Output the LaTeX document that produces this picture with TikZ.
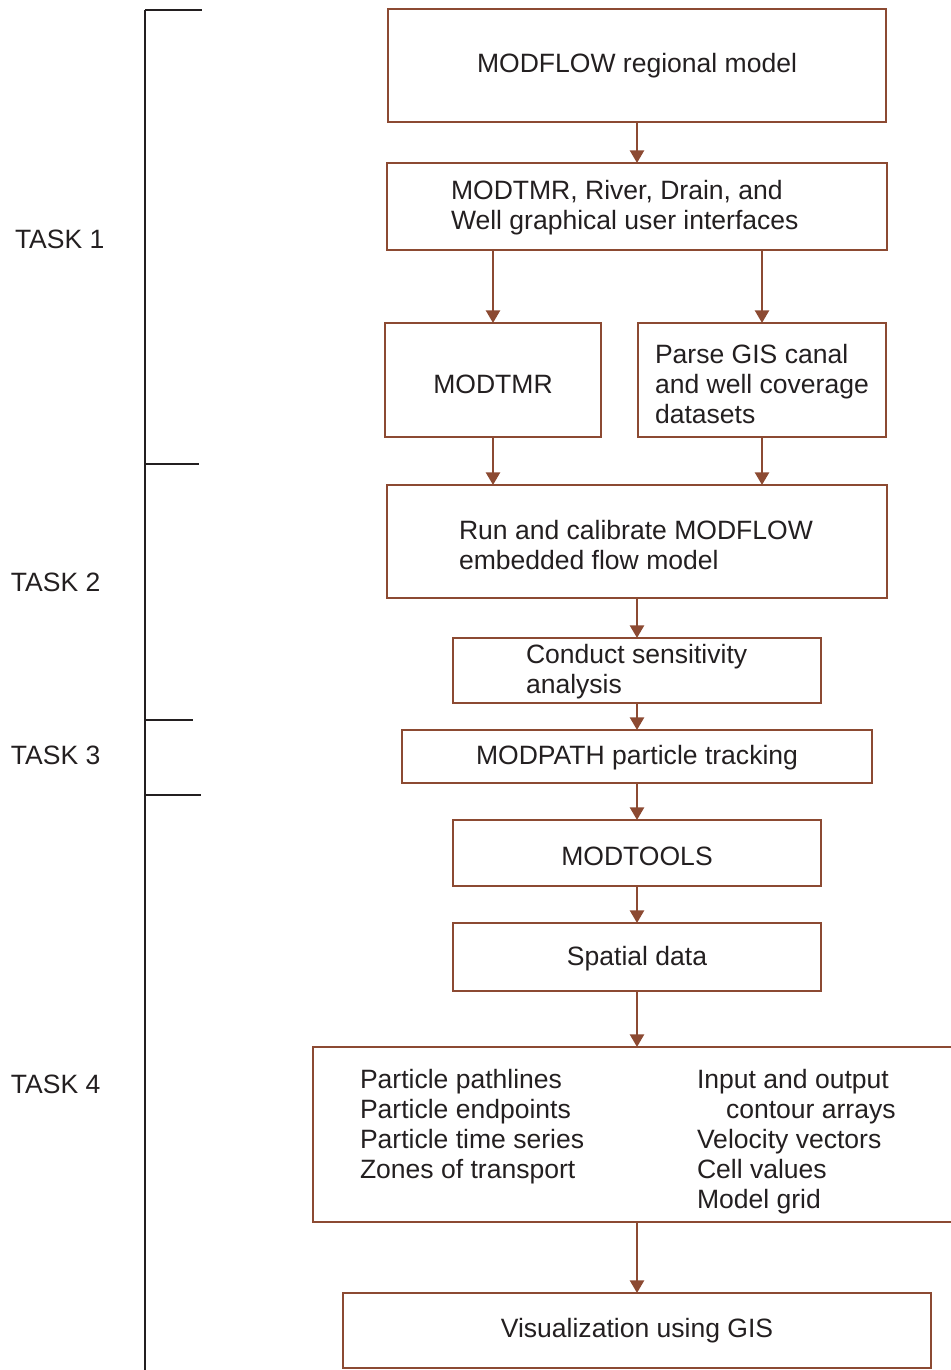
\documentclass[tikz,border=0pt]{standalone}
\usepackage{fontspec}
\setmainfont{Liberation Sans}
\usetikzlibrary{arrows.meta}
\definecolor{brn}{HTML}{8C4A32}
\definecolor{ink}{HTML}{231F20}
\tikzset{
  box/.style={draw=brn, line width=1.2pt, rectangle, inner sep=0pt, outer sep=0pt},
  txt/.style={inner sep=0pt, outer sep=0pt, text=ink, font=\fontsize{19.9pt}{22.5pt}\selectfont},
  conn/.style={draw=brn, line width=1.9pt, -{Triangle[width=10.5pt,length=9.5pt]}},
  brk/.style={draw=ink, line width=1.2pt}
}
\begin{document}
\begin{tikzpicture}[x=0.75pt,y=-0.75pt]
\useasboundingbox (0,0) rectangle (950,1370);
% boxes
\node[box, minimum width=373.5pt, minimum height=84.75pt] (b1) at (637,65.5) {};
\node[box, minimum width=375pt, minimum height=65.25pt] (b2) at (637,206.5) {};
\node[box, minimum width=162pt, minimum height=85.5pt] (b3) at (493,380) {};
\node[box, minimum width=186pt, minimum height=85.5pt] (b4) at (762,380) {};
\node[box, minimum width=375pt, minimum height=84.75pt] (b5) at (637,541.5) {};
\node[box, minimum width=276pt, minimum height=48.75pt] (b6) at (637,670.5) {};
\node[box, minimum width=352.5pt, minimum height=39.75pt] (b7) at (637,756.5) {};
\node[box, line width=1.9pt, minimum width=276pt, minimum height=49.5pt] (b8) at (637,853) {};
\node[box, minimum width=276pt, minimum height=51pt] (b9) at (637,957) {};
\node[box, minimum width=485.25pt, minimum height=131.25pt] (b10) at (636.5,1134.5) {};
\node[box, minimum width=441pt, minimum height=56.25pt] (b11) at (637,1330.5) {};
% texts
\node[txt] (t1) at (637,66) {MODFLOW regional model};
\node[txt, anchor=west, align=left] (t2) at (451,208) {MODTMR, River, Drain, and\\Well graphical user interfaces};
\node[txt] (t3) at (493,384) {MODTMR};
\node[txt, anchor=west, align=left] (t4) at (655,384) {Parse GIS canal\\and well coverage\\datasets};
\node[txt, anchor=west, align=left] (t5) at (459,545) {Run and calibrate MODFLOW\\embedded flow model};
\node[txt, anchor=west, align=left] (t6) at (526,672) {Conduct sensitivity\\analysis};
\node[txt] (t7) at (637,758) {MODPATH particle tracking};
\node[txt] (t8) at (637,856) {MODTOOLS};
\node[txt] (t9) at (637,959) {Spatial data};
\node[txt, anchor=west, align=left] (t10a) at (360,1127) {Particle pathlines\\Particle endpoints\\Particle time series\\Zones of transport};
\node[txt, anchor=west, align=left] (t10b) at (697,1142) {Input and output\\\hspace*{21.75pt}contour arrays\\Velocity vectors\\Cell values\\Model grid};
\node[txt] (t11) at (637,1331) {Visualization using GIS};
% connectors
\draw[conn] (b1.south) -- (b2.north);
\draw[conn] (b2.south -| b3.north) -- (b3.north);
\draw[conn] (b2.south -| b4.north) -- (b4.north);
\draw[conn] (b3.south) -- (b5.north -| b3.south);
\draw[conn] (b4.south) -- (b5.north -| b4.south);
\draw[conn] (b5.south) -- (b6.north);
\draw[conn] (b6.south) -- (b7.north);
\draw[conn] (b7.south) -- (b8.north);
\draw[conn] (b8.south) -- (b9.north);
\draw[conn] (b9.south) -- (b10.north -| b9.south);
\draw[conn] (b10.south -| b11.north) -- (b11.north);
% task bracket
\coordinate (k0) at (145,10);
\coordinate (k5) at (145,1372);
\coordinate (e0) at (202,10);
\coordinate (k1) at (145,464);
\coordinate (e1) at (199,464);
\coordinate (k2) at (145,720);
\coordinate (e2) at (193,720);
\coordinate (k3) at (145,795);
\coordinate (e3) at (201,795);
\draw[brk] (k0) -- (k5);
\draw[brk] (k0) -- (e0);
\draw[brk] (k1) -- (e1);
\draw[brk] (k2) -- (e2);
\draw[brk] (k3) -- (e3);
\node[txt, anchor=west] (task1) at (15,239) {TASK 1};
\node[txt, anchor=west] (task2) at (11,582) {TASK 2};
\node[txt, anchor=west] (task3) at (11,755) {TASK 3};
\node[txt, anchor=west] (task4) at (11,1084) {TASK 4};
\end{tikzpicture}
\end{document}
